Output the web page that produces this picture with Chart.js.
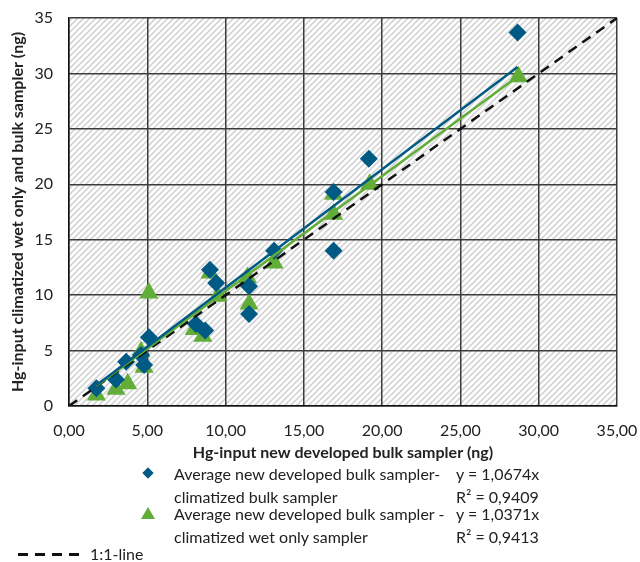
<!DOCTYPE html>
<html>
<head>
<title>Hg-input comparison</title>
<script src="https://cdn.jsdelivr.net/npm/chart.js"></script>
<style>
body { margin: 0; background: #fff; font-family: Lato, sans-serif; color: #222; }
#wrap { position: relative; width: 640px; height: 562px; }
#chart { position: absolute; left: 0; top: 0; }
.lg { position: absolute; font-size: 16px; line-height: 23px; white-space: nowrap; }
.dia { position: absolute; width: 8px; height: 8px; background: #005a84; transform: rotate(45deg); }
.tri { position: absolute; width: 0; height: 0; border-left: 7px solid transparent; border-right: 7px solid transparent; border-bottom: 12px solid #62ad37; }
.dash { position: absolute; width: 64px; height: 3px;
  background: repeating-linear-gradient(to right, #111 0 10px, transparent 10px 17px); }
</style>
</head>
<body>
<div id="wrap">
  <canvas id="chart" width="640" height="562"></canvas>
  <div class="dia" style="left:144px; top:469px;"></div>
  <div class="lg" style="left:174px; top:462px;">Average new developed bulk sampler-<br>climatized bulk sampler</div>
  <div class="lg" style="left:456px; top:462px;">y = 1,0674x<br>R² = 0,9409</div>
  <div class="tri" style="left:141px; top:507px;"></div>
  <div class="lg" style="left:174px; top:502px;">Average new developed bulk sampler -<br>climatized wet only sampler</div>
  <div class="lg" style="left:456px; top:502px;">y = 1,0371x<br>R² = 0,9413</div>
  <div class="dash" style="left:18px; top:553px;"></div>
  <div class="lg" style="left:90px; top:542px;">1:1-line</div>
</div>
<script>
// x = new developed bulk sampler, y = climatized bulk sampler (ng)
const bulkX = [1.75, 3.0, 3.65, 4.6, 4.8, 5.1, 8.1, 8.7, 9.0, 9.4, 11.5, 11.5, 13.1, 16.9, 16.9, 19.15, 28.65];
const bulkY = [1.6, 2.4, 4.0, 4.6, 3.7, 6.2, 7.4, 6.8, 12.3, 11.1, 10.8, 8.3, 14.0, 19.3, 14.0, 22.3, 33.7];
// x = new developed bulk sampler, y = climatized wet only sampler (ng)
const wetX = [1.75, 3.0, 3.75, 4.6, 4.8, 5.1, 8.0, 8.55, 9.0, 9.5, 11.4, 11.5, 13.1, 16.9, 16.9, 19.2, 28.7];
const wetY = [1.0, 1.5, 2.0, 4.9, 3.5, 10.2, 6.9, 6.3, 12.0, 9.9, 11.6, 9.2, 12.9, 19.1, 17.3, 20.0, 29.7];

const bulkSlope = 1.0674;
const wetSlope = 1.0371;
const axisMax = 35;

const blue = '#005a84';
const green = '#62ad37';

function pts(xs, ys) { return xs.map((x, i) => ({ x: x, y: ys[i] })); }
function trend(xs, k) {
  const lo = Math.min(...xs), hi = Math.max(...xs);
  return [{ x: lo, y: k * lo }, { x: hi, y: k * hi }];
}

// diagonal hatch fill for the plot area
const pc = document.createElement('canvas');
pc.width = 6; pc.height = 6;
const g = pc.getContext('2d');
g.fillStyle = '#fff';
g.fillRect(0, 0, 6, 6);
g.strokeStyle = '#d4d4d4';
g.lineWidth = 1.6;
g.beginPath();
g.moveTo(-1, 7); g.lineTo(7, -1);
g.moveTo(-4, 4); g.lineTo(4, -4);
g.moveTo(2, 10); g.lineTo(10, 2);
g.stroke();

const hatch = {
  id: 'hatch',
  beforeDraw(chart) {
    const a = chart.chartArea, c = chart.ctx;
    c.save();
    c.fillStyle = c.createPattern(pc, 'repeat');
    c.fillRect(a.left, a.top, a.right - a.left, a.bottom - a.top);
    c.restore();
  }
};

const font = { family: 'Lato', size: 16 };

new Chart(document.getElementById('chart'), {
  type: 'scatter',
  data: {
    datasets: [
      { data: trend(bulkX, bulkSlope), showLine: true, borderColor: blue, borderWidth: 2.5, pointRadius: 0 },
      { data: trend(wetX, wetSlope), showLine: true, borderColor: green, borderWidth: 2.5, pointRadius: 0 },
      { data: [{ x: 0, y: 0 }, { x: axisMax, y: axisMax }], showLine: true, borderColor: '#111', borderWidth: 2.5, borderDash: [10, 7], pointRadius: 0 },
      { data: pts(bulkX, bulkY), pointStyle: 'rectRot', pointRadius: 9, backgroundColor: blue, borderColor: blue, borderWidth: 0 },
      { data: pts(wetX, wetY), pointStyle: 'triangle', pointRadius: 11, backgroundColor: green, borderColor: green, borderWidth: 0 }
    ]
  },
  options: {
    responsive: false,
    animation: false,
    layout: { padding: { top: 18, right: 23, bottom: 96, left: 0 } },
    plugins: { legend: { display: false }, tooltip: { enabled: false } },
    scales: {
      x: {
        min: 0, max: axisMax,
        ticks: { stepSize: 5, color: '#222', font: font, padding: 15, maxRotation: 0,
          callback: v => v.toFixed(2).replace('.', ',') },
        grid: { color: '#3c3c3c', lineWidth: 1.5, drawTicks: false },
        border: { color: '#111', width: 1.5 },
        title: { display: true, text: 'Hg-input new developed bulk sampler (ng)', color: '#222',
          font: { family: 'Lato', size: 16, weight: 'bold' }, padding: { top: 4 } },
        afterFit: s => { s.height = 60; s.paddingLeft = 0; s.paddingRight = 0; }
      },
      y: {
        min: 0, max: axisMax,
        ticks: { stepSize: 5, color: '#222', font: font, padding: 16 },
        grid: { color: '#3c3c3c', lineWidth: 1.5, drawTicks: false },
        border: { color: '#111', width: 1.5 },
        title: { display: true, text: 'Hg-input climatized wet only and bulk sampler (ng)', color: '#222',
          font: { family: 'Lato', size: 16, weight: 'bold' }, padding: { top: 8, bottom: 0 } },
        afterFit: s => { s.width = 69; s.paddingTop = 0; s.paddingBottom = 0; }
      }
    }
  },
  plugins: [hatch]
});
</script>
</body>
</html>
